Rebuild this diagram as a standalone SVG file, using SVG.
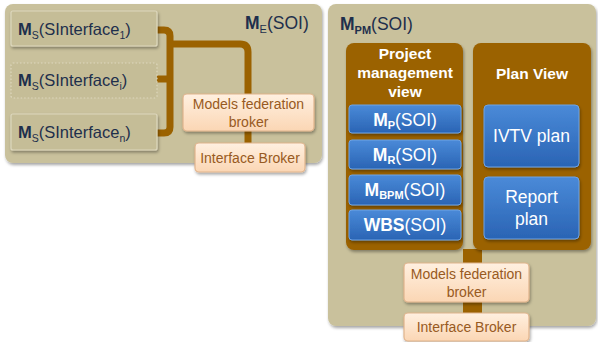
<svg xmlns="http://www.w3.org/2000/svg" width="598" height="342" viewBox="0 0 598 342">
<defs>
<filter id="sh" x="-10%" y="-10%" width="130%" height="140%">
<feDropShadow dx="1" dy="2" stdDeviation="1.5" flood-color="#000" flood-opacity="0.35"/>
</filter>
<linearGradient id="blue" x1="0" y1="0" x2="0" y2="1">
<stop offset="0" stop-color="#4a8ad8"/>
<stop offset="1" stop-color="#2a64b4"/>
</linearGradient>
<linearGradient id="peach" x1="0" y1="0" x2="0" y2="1">
<stop offset="0" stop-color="#fff0e0"/>
<stop offset="1" stop-color="#fbd6b4"/>
</linearGradient>
<style>
text{font-family:"Liberation Sans",Arial,sans-serif}
.cont{fill:#c9c19c;filter:url(#sh)}
.ms{fill:#c5bd97;stroke:#ddd7bd;stroke-width:1.2;filter:url(#sh)}
.msd{fill:#c5bd97;stroke:#ddd7bd;stroke-width:1.2;stroke-dasharray:1.5 2}
.mst{font-size:16.5px;fill:#1e2f4c}
.panel{fill:#9b6200;filter:url(#sh)}
.bl{fill:url(#blue);stroke:#6fa3e3;stroke-width:1;filter:url(#sh)}
.blt{font-size:17.5px;fill:#fff;text-anchor:middle}
.pe{fill:url(#peach);stroke:#e0b48c;stroke-width:1.2;filter:url(#sh)}
.pet{font-size:14px;fill:#985a22;text-anchor:middle}
.hd{font-size:15.5px;font-weight:bold;fill:#fff;text-anchor:middle}
.conn{fill:none;stroke:#9b6200;stroke-width:7;stroke-linejoin:round}
.lbl{font-size:17.5px;fill:#1e2f4c}
.b{font-weight:bold}
</style>
</defs>

<g id="container-ME">
<rect class="cont" x="5" y="4" width="317" height="159" rx="8"/>
<text class="lbl" x="245" y="29"><tspan class="b">M</tspan><tspan font-size="11" dy="4">E</tspan><tspan dy="-4">(SOI)</tspan></text>
</g>

<g id="container-MPM">
<rect class="cont" x="328" y="4" width="268" height="322" rx="8"/>
<text class="lbl" x="340" y="30"><tspan class="b">M</tspan><tspan font-size="11" font-weight="bold" dy="4">PM</tspan><tspan dy="-4">(SOI)</tspan></text>
</g>

<g id="connectors">
<path class="conn" d="M157 30 H164 Q170 30 170 36 V127 Q170 133 164 133 H157"/>
<path class="conn" d="M157 79 H170"/>
<path class="conn" d="M170 44 H240 Q248 44 248 52 V95"/>
<path class="conn" d="M248 130 V143"/>
<rect x="463" y="249" width="19" height="15" fill="#9b6200"/>
<rect x="463" y="301" width="19" height="12" fill="#9b6200"/>
</g>

<g id="ms1">
<rect class="ms" x="11" y="11" width="146" height="35" rx="2"/>
<text class="mst" x="18" y="35"><tspan class="b">M</tspan><tspan font-size="10.5" dy="4">S</tspan><tspan dy="-4">(SInterface</tspan><tspan font-size="10.5" dy="4">1</tspan><tspan dy="-4">)</tspan></text>
</g>
<g id="msi">
<rect class="msd" x="11" y="63" width="146" height="35" rx="2"/>
<text class="mst" x="18" y="86"><tspan class="b">M</tspan><tspan font-size="10.5" dy="4">S</tspan><tspan dy="-4">(SInterface</tspan><tspan font-size="10.5" dy="4">i</tspan><tspan dy="-4">)</tspan></text>
</g>
<g id="msn">
<rect class="ms" x="11" y="114" width="146" height="36" rx="2"/>
<text class="mst" x="18" y="138"><tspan class="b">M</tspan><tspan font-size="10.5" dy="4">S</tspan><tspan dy="-4">(SInterface</tspan><tspan font-size="10.5" dy="4">n</tspan><tspan dy="-4">)</tspan></text>
</g>

<g id="mfb-left">
<rect class="pe" x="183" y="94" width="131" height="37" rx="4"/>
<text class="pet" x="248.5" y="109">Models federation</text>
<text class="pet" x="248.5" y="127">broker</text>
</g>
<g id="ib-left">
<rect class="pe" x="195" y="143" width="110" height="29" rx="4"/>
<text class="pet" x="250" y="163">Interface Broker</text>
</g>

<g id="pm-view">
<rect class="panel" x="346" y="43" width="117" height="207" rx="8"/>
<text class="hd" x="405" y="59">Project</text>
<text class="hd" x="405" y="78">management</text>
<text class="hd" x="405" y="97">view</text>
</g>
<g id="plan-view">
<rect class="panel" x="473" y="43" width="118" height="207" rx="8"/>
<text class="hd" x="532" y="79">Plan View</text>
</g>

<g id="mp">
<rect class="bl" x="349" y="105" width="112" height="28" rx="3"/>
<text class="blt" x="405" y="126"><tspan class="b">M</tspan><tspan font-size="11" font-weight="bold" dy="3">P</tspan><tspan dy="-3">(SOI)</tspan></text>
</g>
<g id="mr">
<rect class="bl" x="349" y="140" width="112" height="29" rx="3"/>
<text class="blt" x="405" y="161"><tspan class="b">M</tspan><tspan font-size="11" font-weight="bold" dy="3">R</tspan><tspan dy="-3">(SOI)</tspan></text>
</g>
<g id="mbpm">
<rect class="bl" x="349" y="175" width="112" height="30" rx="3"/>
<text class="blt" x="405" y="196"><tspan class="b">M</tspan><tspan font-size="11" font-weight="bold" dy="3">BPM</tspan><tspan dy="-3">(SOI)</tspan></text>
</g>
<g id="wbs">
<rect class="bl" x="349" y="210" width="112" height="30" rx="3"/>
<text class="blt" x="405" y="231"><tspan class="b">WBS</tspan>(SOI)</text>
</g>

<g id="ivtv">
<rect class="bl" x="484" y="105" width="95" height="62" rx="4"/>
<text class="blt" x="531.5" y="142">IVTV plan</text>
</g>
<g id="report">
<rect class="bl" x="484" y="177" width="95" height="62" rx="4"/>
<text class="blt" x="531.5" y="203">Report</text>
<text class="blt" x="531.5" y="225">plan</text>
</g>

<g id="mfb-right">
<rect class="pe" x="404" y="263" width="125" height="39" rx="4"/>
<text class="pet" x="466.5" y="279">Models federation</text>
<text class="pet" x="466.5" y="297">broker</text>
</g>
<g id="ib-right">
<rect class="pe" x="404" y="313" width="125" height="28" rx="4"/>
<text class="pet" x="466.5" y="332">Interface Broker</text>
</g>
</svg>
